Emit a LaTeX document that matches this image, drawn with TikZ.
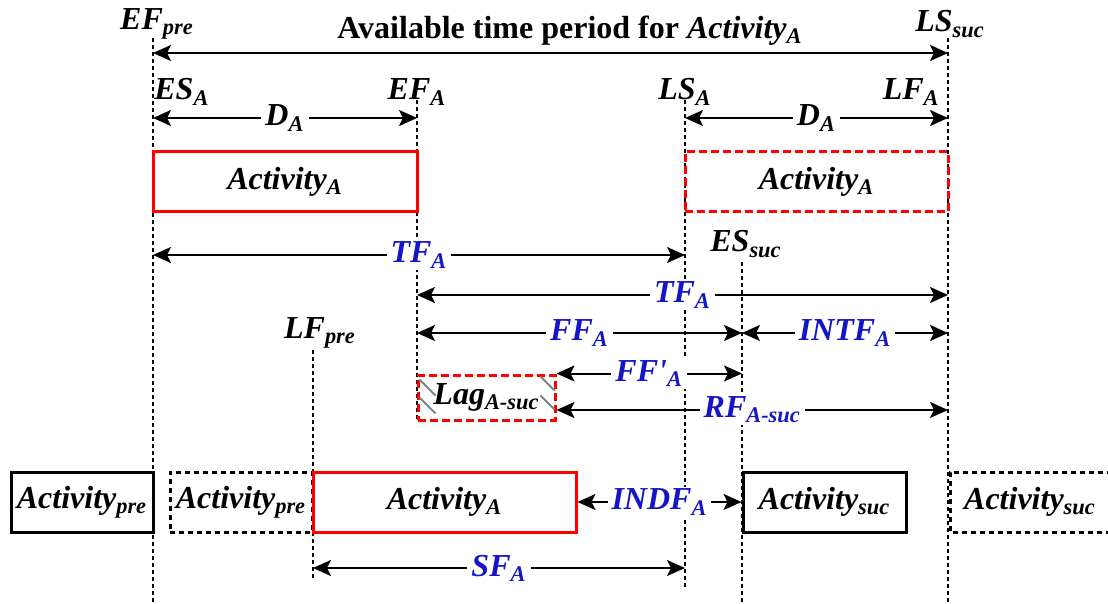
\documentclass[tikz,border=0pt]{standalone}
\usepackage{fontspec}
\setmainfont{Liberation Serif}
\usetikzlibrary{arrows.meta}
\definecolor{dimblue}{RGB}{20,20,200}
\definecolor{actred}{RGB}{255,0,0}

\begin{document}
\begin{tikzpicture}
[x=0.5pt, y=-0.5pt,
 every node/.style={inner sep=0pt, font=\fontsize{16}{19}\selectfont\bfseries\itshape},
 timeline/.style={line width=1pt, dash pattern=on 2pt off 1.5pt},
 dimline/.style={line width=1pt, {Stealth[length=9pt, width=8pt, inset=2pt]}-{Stealth[length=9pt, width=8pt, inset=2pt]}},
 dimlabel/.style={fill=white, inner xsep=2pt, inner ysep=1pt, text=dimblue},
 actbox/.style={draw, line width=1.5pt, minimum height=30pt},
 dashbox/.style={line width=1.5pt, dash pattern=on 2.5pt off 2pt},
 reddash/.style={draw=actred, line width=1.5pt, dash pattern=on 4pt off 2pt},
 hatch/.style={draw=gray, line width=1pt}]
\useasboundingbox (0,0) rectangle (1108,604);

% time lines
\coordinate (tEFpre) at (153,38);
\coordinate (tEFA) at (417,100);
\coordinate (tLFpre) at (313,350);
\coordinate (tLSA) at (685,100);
\coordinate (tESsuc) at (742,262);
\coordinate (tLSsuc) at (948,38);
\draw [timeline] (tEFpre) -- ++(0,566);
\draw [timeline] (tEFA) -- ++(0,320);
\draw [timeline] (tLFpre) -- ++(0,230);
\draw [timeline] (tLSA) -- ++(0,490);
\draw [timeline] (tESsuc) -- ++(0,342);
\draw [timeline] (tLSsuc) -- ++(0,566);

% time labels
\node (title) [font=\fontsize{16}{19}\selectfont\bfseries] at (570,31) {Available time period for \textit{Activity\textsubscript{A}}};
\node (lEFpre) at (157,24) {EF\textsubscript{pre}};
\node (lLSsuc) at (950,24) {LS\textsubscript{suc}};
\node (lESA) [anchor=west] at (154,92) {ES\textsubscript{A}};
\node (lEFA) at (417,92) {EF\textsubscript{A}};
\node (lLSA) at (685,92) {LS\textsubscript{A}};
\node (lLFA) [anchor=east] at (940,92) {LF\textsubscript{A}};
\node (lESsuc) at (746,244) {ES\textsubscript{suc}};
\node (lLFpre) at (320,333) {LF\textsubscript{pre}};

% activities
\node (actA) [actbox, draw=actred, minimum width=132pt] at (285,182) {Activity\textsubscript{A}};
\node (actAlate) [actbox, reddash, minimum width=131.5pt, minimum height=30pt] at (816.5,182) {Activity\textsubscript{A}};
\node (lag) [reddash, minimum width=68.5pt, minimum height=22.5pt] at (486.5,397.5) {Lag\textsubscript{A-suc}};
\draw [hatch] ([shift={(3,6)}]lag.north west) -- ++(16,16);
\draw [hatch] ([shift={(3,24)}]lag.north west) -- ++(16,16);
\draw [hatch] ([shift={(-16,3)}]lag.north east) -- ++(14,14);
\draw [hatch] ([shift={(-16,22)}]lag.north east) -- ++(14,14);
\node (preA) [actbox, minimum width=71pt] at (82,502) {Activity\textsubscript{pre}};
\node (preB) [draw, dashbox, minimum width=71pt, minimum height=30pt] at (241,502) {Activity\textsubscript{pre}};
\node (actAbot) [actbox, draw=actred, minimum width=131.5pt] at (444.5,502) {Activity\textsubscript{A}};
\node (sucA) [actbox, minimum width=81.5pt] at (824.5,502) {Activity\textsubscript{suc}};
\node (sucB) at (1030,502) {Activity\textsubscript{suc}};
\draw [dashbox] (1112,472) -| (950,532) -- (1112,532);

% spans
\draw [dimline] (tEFpre |- 0,53) -- (tLSsuc |- 0,53);
\draw [dimline] (tEFpre |- 0,118) -- node [fill=white, inner xsep=2pt] (dA) {D\textsubscript{A}} (tEFA |- 0,118);
\draw [dimline] (tLSA |- 0,118) -- node [fill=white, inner xsep=2pt] (dAlate) {D\textsubscript{A}} (tLSsuc |- 0,118);
\draw [dimline] (tEFpre |- 0,255) -- node [dimlabel] (tfA) {TF\textsubscript{A}} (tLSA |- 0,255);
\draw [dimline] (tEFA |- 0,295) -- node [dimlabel] (tfAlate) {TF\textsubscript{A}} (tLSsuc |- 0,295);
\draw [dimline] (tEFA |- 0,333) -- node [dimlabel] (ffA) {FF\textsubscript{A}} (tESsuc |- 0,333);
\draw [dimline] (tESsuc |- 0,333) -- node [dimlabel] (intfA) {INTF\textsubscript{A}} (tLSsuc |- 0,333);
\draw [dimline] (lag.north east) -- node [dimlabel] (ffpA) {FF\textquotesingle\textsubscript{A}} (tESsuc |- lag.north east);
\draw [dimline] (lag.east |- 0,410) -- node [dimlabel] (rfA) {RF\textsubscript{A-suc}} (tLSsuc |- 0,410);
\draw [dimline] (actAbot) -- node [dimlabel] (indfA) {INDF\textsubscript{A}} (sucA);
\draw [dimline] (tLFpre |- 0,568) -- node [dimlabel] (sfA) {SF\textsubscript{A}} (tLSA |- 0,568);
\end{tikzpicture}
\end{document}
